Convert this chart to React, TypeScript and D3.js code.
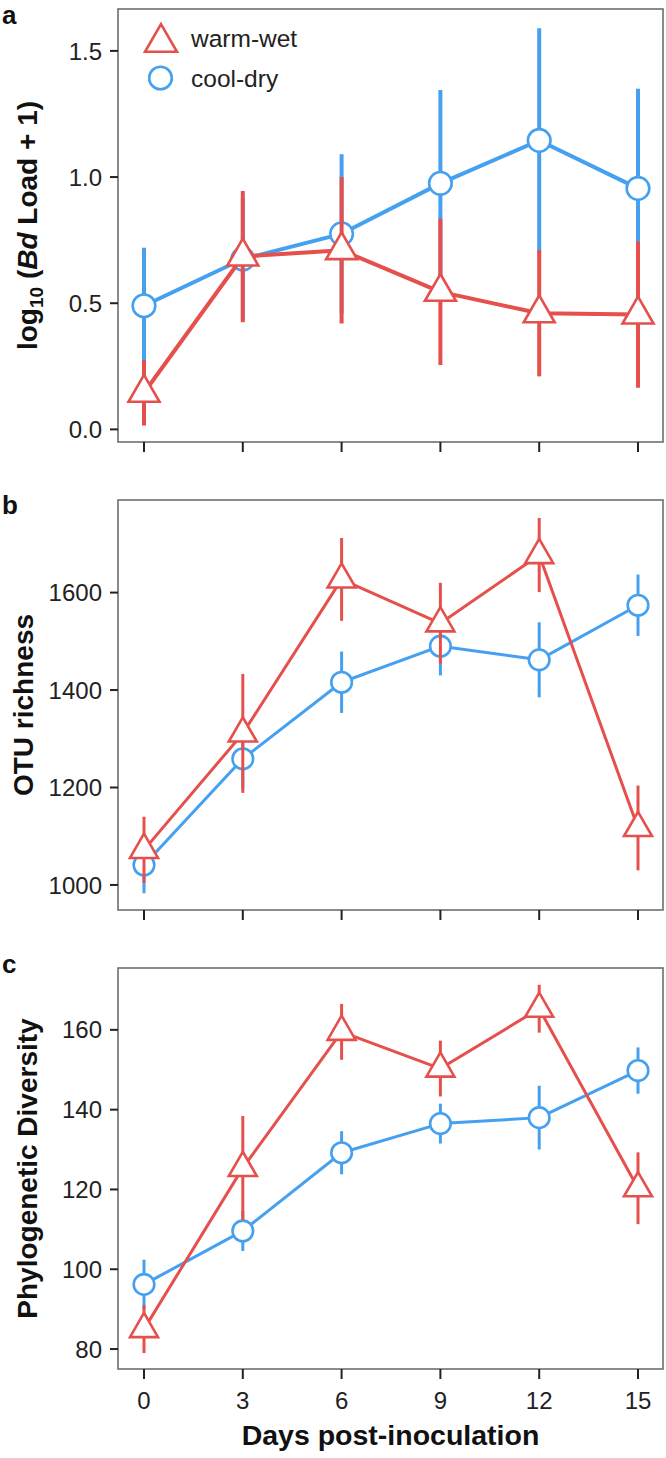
import React, { useEffect, useRef } from "react";
import * as d3 from "d3";

const days = [0, 3, 6, 9, 12, 15];

// panel a: log10(Bd load + 1)
const loadWarm = [0.145, 0.685, 0.71, 0.545, 0.46, 0.455];
const loadWarmErr = [0.13, 0.26, 0.29, 0.29, 0.25, 0.29];
const loadCool = [0.49, 0.675, 0.775, 0.975, 1.145, 0.955];
const loadCoolErr = [0.23, 0.24, 0.315, 0.37, 0.445, 0.395];
const loadTicks = [0, 0.5, 1.0, 1.5];

// panel b: OTU richness
const richWarm = [1072, 1311, 1627, 1537, 1677, 1117];
const richWarmErr = [68, 122, 85, 83, 76, 87];
const richCool = [1041, 1259, 1416, 1490, 1462, 1574];
const richCoolErr = [58, 62, 63, 60, 77, 63];
const richTicks = [1000, 1200, 1400, 1600];

// panel c: phylogenetic diversity
const pdWarm = [85, 125.4, 159.5, 150.3, 165.3, 120.3];
const pdWarmErr = [6, 13, 7, 7, 6, 9];
const pdCool = [96.2, 109.6, 129.2, 136.5, 138, 149.8];
const pdCoolErr = [6.2, 5, 5.4, 5, 8, 5.8];
const pdTicks = [80, 100, 120, 140, 160];

const seriesNames = ["warm-wet", "cool-dry"];

const RED = "#E5504C";
const BLUE = "#45A1F0";
const FONT = "'Liberation Sans', Arial, Helvetica, sans-serif";

const W = 666;
const H = 1458;
const boxLeft = 118;
const boxRight = 663;

function triPath(w: number) {
  const h = w / 1.156;
  return `M0,${(-2 * h) / 3}L${w / 2},${h / 3}L${-w / 2},${h / 3}Z`;
}

function drawPanel(svg: any, p: any) {
  const x = d3.scaleLinear().domain([0, 15]).range([144, 638]);
  const y = d3.scaleLinear().domain(p.domain).range([p.bottom, p.top]);
  const g = svg.append("g");

  // box
  g.append("rect")
    .attr("x", boxLeft).attr("y", p.top)
    .attr("width", boxRight - boxLeft).attr("height", p.bottom - p.top)
    .attr("fill", "none").attr("stroke", "#6e6e6e").attr("stroke-width", 1.6);

  // y axis ticks
  p.ticks.forEach((t: number) => {
    g.append("line")
      .attr("x1", boxLeft - 8).attr("x2", boxLeft)
      .attr("y1", y(t)).attr("y2", y(t))
      .attr("stroke", "#222").attr("stroke-width", 2);
    g.append("text")
      .attr("x", 102).attr("y", y(t)).attr("dy", "0.36em")
      .attr("text-anchor", "end")
      .attr("font-family", FONT).attr("font-size", 24).attr("fill", "#222")
      .text(p.fmt(t));
  });

  // x axis ticks
  days.forEach((d) => {
    g.append("line")
      .attr("x1", x(d)).attr("x2", x(d))
      .attr("y1", p.bottom).attr("y2", p.bottom + 10)
      .attr("stroke", "#222").attr("stroke-width", 2);
    if (p.xLabels) {
      g.append("text")
        .attr("x", x(d)).attr("y", p.bottom + 40)
        .attr("text-anchor", "middle")
        .attr("font-family", FONT).attr("font-size", 24).attr("fill", "#222")
        .text(d);
    }
  });

  // y title
  const yt = g.append("text")
    .attr("transform", `translate(${p.titleX},${(p.top + p.bottom) / 2}) rotate(-90)`)
    .attr("text-anchor", "middle")
    .attr("font-family", FONT).attr("font-size", 28).attr("font-weight", "bold")
    .attr("fill", "#111");
  p.title(yt);

  // panel letter
  g.append("text")
    .attr("x", 2).attr("y", p.letterY)
    .attr("font-family", FONT).attr("font-size", 26).attr("font-weight", "bold")
    .attr("fill", "#111")
    .text(p.letter);

  const line = d3.line<number>().x((_, i) => x(days[i])).y((v) => y(v));

  const series = [
    { vals: p.cool, err: p.coolErr, color: BLUE, shape: "circle" },
    { vals: p.warm, err: p.warmErr, color: RED, shape: "tri" },
  ];

  series.forEach((s) => {
    g.append("g").selectAll("line").data(s.vals).enter().append("line")
      .attr("x1", (_: any, i: number) => x(days[i]))
      .attr("x2", (_: any, i: number) => x(days[i]))
      .attr("y1", (v: number, i: number) => y(v - s.err[i]))
      .attr("y2", (v: number, i: number) => y(v + s.err[i]))
      .attr("stroke", s.color).attr("stroke-width", p.lw);

    g.append("path")
      .attr("d", line(s.vals))
      .attr("fill", "none").attr("stroke", s.color)
      .attr("stroke-width", p.lw).attr("stroke-linejoin", "round");

    const m = g.append("g").selectAll("g").data(s.vals).enter().append("g")
      .attr("transform", (v: number, i: number) => `translate(${x(days[i])},${y(v)})`);
    if (s.shape === "circle") {
      m.append("circle").attr("r", p.r)
        .attr("fill", "white").attr("stroke", s.color).attr("stroke-width", 2.6);
    } else {
      m.append("path").attr("d", triPath(p.triW))
        .attr("fill", "white").attr("stroke", s.color).attr("stroke-width", 2.6);
    }
  });

  if (p.legend) {
    const lg = g.append("g");
    lg.append("path").attr("d", triPath(32))
      .attr("transform", "translate(161,42.5)")
      .attr("fill", "white").attr("stroke", RED).attr("stroke-width", 2.6);
    lg.append("circle").attr("cx", 160.5).attr("cy", 78).attr("r", 11.3)
      .attr("fill", "white").attr("stroke", BLUE).attr("stroke-width", 2.6);
    seriesNames.forEach((n, i) => {
      lg.append("text")
        .attr("x", 191).attr("y", i === 0 ? 47 : 87)
        .attr("font-family", FONT).attr("font-size", 24.5).attr("fill", "#222")
        .text(n);
    });
  }

  if (p.xLabels) {
    g.append("text")
      .attr("x", (boxLeft + boxRight) / 2).attr("y", 1445)
      .attr("text-anchor", "middle")
      .attr("font-family", FONT).attr("font-size", 28.5).attr("font-weight", "bold")
      .attr("fill", "#111")
      .text("Days post-inoculation");
  }
}

export default function App() {
  const ref = useRef<SVGSVGElement>(null);

  useEffect(() => {
    document.body.style.margin = "0";
    const svg = d3.select(ref.current);
    svg.selectAll("*").remove();

    drawPanel(svg, {
      letter: "a", letterY: 24,
      top: 9, bottom: 442, domain: [-0.05, 1.666],
      ticks: loadTicks, fmt: d3.format(".1f"),
      warm: loadWarm, warmErr: loadWarmErr, cool: loadCool, coolErr: loadCoolErr,
      lw: 4, r: 11.3, triW: 31, legend: true, xLabels: false, titleX: 37,
      title: (t: any) => {
        t.append("tspan").text("log");
        t.append("tspan").attr("font-size", 19).attr("dy", 6).text("10");
        t.append("tspan").attr("dy", -6).text(" (");
        t.append("tspan").attr("font-style", "italic").text("Bd");
        t.append("tspan").text(" Load + 1)");
      },
    });

    drawPanel(svg, {
      letter: "b", letterY: 514,
      top: 500, bottom: 910, domain: [948.6, 1790],
      ticks: richTicks, fmt: d3.format("d"),
      warm: richWarm, warmErr: richWarmErr, cool: richCool, coolErr: richCoolErr,
      lw: 3, r: 10.3, triW: 28, legend: false, xLabels: false, titleX: 33,
      title: (t: any) => t.text("OTU richness"),
    });

    drawPanel(svg, {
      letter: "c", letterY: 973,
      top: 968, bottom: 1369, domain: [75, 175.5],
      ticks: pdTicks, fmt: d3.format("d"),
      warm: pdWarm, warmErr: pdWarmErr, cool: pdCool, coolErr: pdCoolErr,
      lw: 3, r: 10.3, triW: 28, legend: false, xLabels: true, titleX: 37,
      title: (t: any) => t.text("Phylogenetic Diversity"),
    });
  }, []);

  return <svg ref={ref} width={W} height={H} style={{ display: "block", background: "white" }} />;
}
